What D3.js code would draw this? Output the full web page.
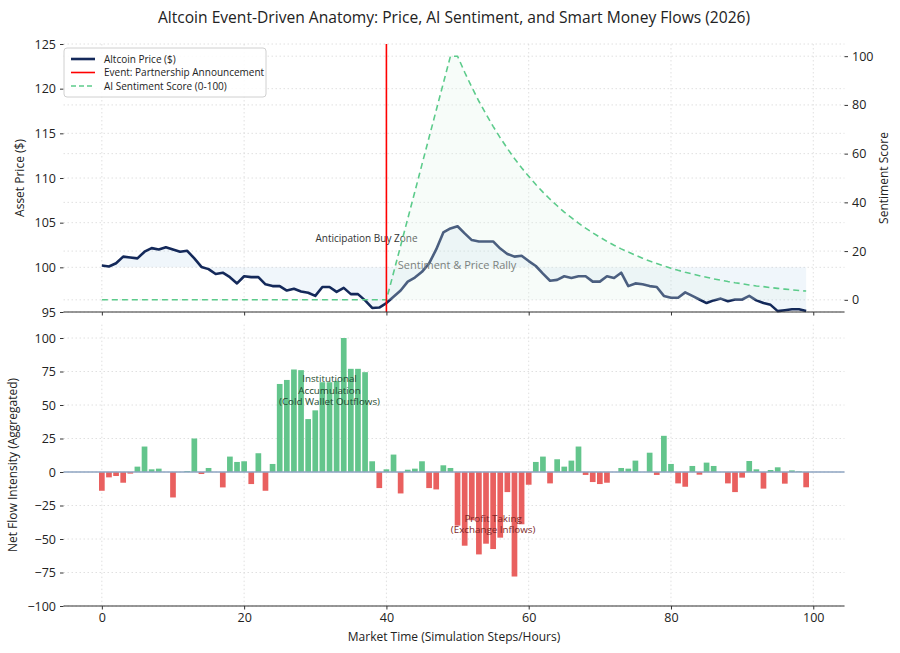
<!DOCTYPE html>
<html>
<head>
<meta charset="utf-8">
<script src="https://cdn.jsdelivr.net/npm/d3@7"></script>
<style>
  body { margin: 0; background: #fff; }
  text { font-family: "Open Sans", "Noto Sans", sans-serif; }
</style>
</head>
<body>
<div id="chart"></div>
<script>
/* global d3 */

// Data
const steps = d3.range(100)

const price = [
  100.2, 100.1, 100.45, 101.2, 101.1, 101.0, 101.75, 102.15, 102.0, 102.25,
  102.0, 101.75, 101.85, 101.0, 100.05, 99.8, 99.25, 99.4, 98.9, 98.2,
  99.0, 98.9, 98.9, 98.1, 97.9, 97.9, 97.4, 97.6, 97.3, 97.15,
  96.8, 97.8, 97.8, 97.25, 97.7, 97.0, 97.0, 96.3, 95.45, 95.5,
  96.0, 96.7, 97.4, 98.4, 98.85, 99.5, 100.45, 102.0, 103.9, 104.35,
  104.6, 103.8, 103.05, 102.9, 102.9, 102.9, 102.1, 101.5, 101.2, 101.3,
  100.7, 100.15, 99.3, 98.5, 98.6, 99.0, 98.8, 99.0, 99.0, 98.4,
  98.4, 99.0, 98.8, 99.4, 97.9, 98.2, 98.1, 97.9, 97.8, 96.8,
  96.6, 96.6, 97.2, 96.8, 96.4, 96.0, 96.3, 96.5, 96.2, 96.4,
  96.4, 96.8, 96.3, 96.0, 95.8, 95.1, 95.2, 95.3, 95.3, 95.1
]

const sentiment = [
  0, 0, 0, 0, 0, 0, 0, 0, 0, 0,
  0, 0, 0, 0, 0, 0, 0, 0, 0, 0,
  0, 0, 0, 0, 0, 0, 0, 0, 0, 0,
  0, 0, 0, 0, 0, 0, 0, 0, 0, 0,
  0, 11.1, 22.2, 33.3, 44.4, 55.6, 66.7, 77.8, 88.9, 100,
  100, 93.4, 87.3, 81.5, 76.2, 71.2, 66.5, 62.1, 58.0, 54.2,
  50.7, 47.3, 44.2, 41.3, 38.6, 36.0, 33.7, 31.5, 29.4, 27.5,
  25.7, 24.0, 22.4, 20.9, 19.6, 18.3, 17.1, 15.9, 14.9, 13.9,
  13.0, 12.1, 11.3, 10.6, 9.9, 9.3, 8.6, 8.1, 7.5, 7.0,
  6.6, 6.1, 5.7, 5.4, 5.0, 4.7, 4.4, 4.1, 3.8, 3.6
]

const netFlow = [
  -14, -4, -3, -8, -1.2, 4, 19, 2, 2.5, 0,
  -19, 0, 0.7, 25, -1.5, 3, 0, -11.5, 11.5, 7.5,
  8, -9, 14, -14, 6, 65.7, 68.7, 76.5, 76, 39.5,
  46, 67, 67, 68, 100, 77, 77, 74.5, 8, -12,
  2, 13, -16, 1.7, 2.5, 8, -12, -13, 5, 3,
  -40, -55, -36, -61.5, -53.5, -57.5, -49, -15, -78, -39,
  -9.5, 7.5, 11.5, -8.5, 9.5, 4, 8.5, 19, -2.2, -7.5,
  -9, -8, 0, 3, 2.5, 8.5, 0, 14.4, -2.2, 27,
  6, -8.5, -11, 4.5, -2, 7, 4.5, 0, -8.5, -15,
  -4.2, 8.2, 2, -12.4, 1.5, 3.5, -8.7, 1.2, 0.5, -11.4
]

const eventStep = 40
const priceTicks = [95, 100, 105, 110, 115, 120, 125]
const sentimentTicks = [0, 20, 40, 60, 80, 100]
const flowTicks = [-100, -75, -50, -25, 0, 25, 50, 75, 100]
const timeTicks = [0, 20, 40, 60, 80, 100]

// Canvas
const width = 900,
  height = 653

const svg = d3.select('#chart')
  .append('svg')
  .attr('width', width)
  .attr('height', height)

// Scales
const x = d3.scaleLinear().domain([-5.39, 104.39]).range([63.5, 844.5])
const yPrice = d3.scaleLinear().domain([95, 125]).range([312, 44])
const ySent = d3.scaleLinear().domain([-5, 105]).range([312, 44])
const yFlow = d3.scaleLinear().domain([-100, 110]).range([606, 324.6])

const xLeft = x.range()[0], xRight = x.range()[1]

// Title
svg.append('text')
  .attr('x', 454).attr('y', 23)
  .attr('text-anchor', 'middle')
  .attr('font-size', 15.6)
  .attr('fill', '#222')
  .text('Altcoin Event-Driven Anatomy: Price, AI Sentiment, and Smart Money Flows (2026)')

// grid helpers
const gridX = (g, y0, y1) => {
  g.selectAll(null)
    .data(timeTicks)
    .enter().append('line')
    .attr('x1', d => x(d)).attr('x2', d => x(d))
    .attr('y1', y0).attr('y2', y1)
    .attr('stroke', '#d8d8d8').attr('stroke-width', 0.8)
    .attr('stroke-dasharray', '1.5,2.5')
}
const gridY = (g, scale, ticks) => {
  g.selectAll(null)
    .data(ticks)
    .enter().append('line')
    .attr('x1', xLeft).attr('x2', xRight)
    .attr('y1', d => scale(d)).attr('y2', d => scale(d))
    .attr('stroke', '#d8d8d8').attr('stroke-width', 0.8)
    .attr('stroke-dasharray', '1.5,2.5')
}

const styleAxis = (g) => {
  g.select('.domain').remove()
  g.selectAll('.tick line').attr('stroke', '#333')
  g.selectAll('.tick text').attr('fill', '#222').attr('font-size', 12.5)
    .style('font-family', '"Open Sans", sans-serif')
}

// ---------- Top panel ----------
const topPanel = svg.append('g')
const topGrid = topPanel.append('g')
gridX(topGrid, 44, 312)
gridY(topGrid, yPrice, priceTicks)
gridY(topGrid, ySent, sentimentTicks)

// price band fill (between price and 100)
topPanel.append('path')
  .datum(steps)
  .attr('fill', '#5b9bd5')
  .attr('fill-opacity', 0.09)
  .attr('d', d3.area()
    .x(i => x(i))
    .y0(yPrice(100))
    .y1(i => yPrice(price[i])))

topPanel.append('path')
  .datum(steps)
  .attr('fill', 'none')
  .attr('stroke', '#14295a')
  .attr('stroke-width', 2.6)
  .attr('stroke-linejoin', 'round')
  .attr('d', d3.line().x(i => x(i)).y(i => yPrice(price[i])))

// annotations on price axis
topPanel.append('text')
  .attr('x', x(37.2)).attr('y', yPrice(102.84))
  .attr('text-anchor', 'middle')
  .attr('font-size', 10)
  .attr('fill', '#333')
  .text('Anticipation Buy Zone')

topPanel.append('text')
  .attr('x', x(41.6)).attr('y', yPrice(99.8))
  .attr('font-size', 11)
  .attr('fill', '#555')
  .text('Sentiment & Price Rally')

// sentiment (twin axis, drawn above)
topPanel.append('path')
  .datum(steps)
  .attr('fill', '#e1f5e8')
  .attr('fill-opacity', 0.27)
  .attr('d', d3.area()
    .x(i => x(i))
    .y0(ySent(0))
    .y1(i => ySent(sentiment[i])))

topPanel.append('path')
  .datum(steps)
  .attr('fill', 'none')
  .attr('stroke', '#5ccb8b')
  .attr('stroke-width', 1.6)
  .attr('stroke-dasharray', '6,4')
  .attr('d', d3.line().x(i => x(i)).y(i => ySent(sentiment[i])))

// event line
topPanel.append('line')
  .attr('x1', x(eventStep)).attr('x2', x(eventStep))
  .attr('y1', 44).attr('y2', 312)
  .attr('stroke', '#ff0000').attr('stroke-width', 1.6)

// axes
topPanel.append('g')
  .attr('transform', `translate(${xLeft},0)`)
  .call(d3.axisLeft(yPrice).tickValues(priceTicks).tickSize(3.5).tickPadding(4))
  .call(styleAxis)

topPanel.append('g')
  .attr('transform', `translate(${xRight},0)`)
  .call(d3.axisRight(ySent).tickValues(sentimentTicks).tickSize(3.5).tickPadding(4))
  .call(styleAxis)

topPanel.append('g')
  .attr('transform', 'translate(0,312)')
  .call(d3.axisBottom(x).tickValues(timeTicks).tickSize(3.5).tickFormat(''))
  .call(styleAxis)

topPanel.append('line')
  .attr('x1', xLeft).attr('x2', xRight)
  .attr('y1', 312).attr('y2', 312)
  .attr('stroke', '#333').attr('stroke-width', 1.1)

topPanel.append('text')
  .attr('transform', 'translate(24,178) rotate(-90)')
  .attr('text-anchor', 'middle')
  .attr('font-size', 12).attr('fill', '#222')
  .text('Asset Price ($)')

topPanel.append('text')
  .attr('transform', 'translate(888,178) rotate(-90)')
  .attr('text-anchor', 'middle')
  .attr('font-size', 12).attr('fill', '#222')
  .text('Sentiment Score')

// legend
const legendItems = [
  { label: 'Altcoin Price ($)', color: '#14295a', w: 2.6, dash: null },
  { label: 'Event: Partnership Announcement', color: '#ff0000', w: 1.6, dash: null },
  { label: 'AI Sentiment Score (0-100)', color: '#5ccb8b', w: 1.6, dash: '5,3' }
]
const legend = topPanel.append('g').attr('transform', 'translate(64,48)')
legend.append('rect')
  .attr('width', 202).attr('height', 49).attr('rx', 3)
  .attr('fill', '#fff').attr('fill-opacity', 0.85)
  .attr('stroke', '#d0d0d0')
legendItems.forEach((d, i) => {
  const row = legend.append('g').attr('transform', `translate(0,${11 + i * 13.5})`)
  row.append('line')
    .attr('x1', 7).attr('x2', 31)
    .attr('stroke', d.color).attr('stroke-width', d.w)
    .attr('stroke-dasharray', d.dash)
  row.append('text')
    .attr('x', 40).attr('y', 3.5)
    .attr('font-size', 10).attr('fill', '#222')
    .text(d.label)
})

// ---------- Bottom panel ----------
const botPanel = svg.append('g')
const botGrid = botPanel.append('g')
gridX(botGrid, 324.6, 606)
gridY(botGrid, yFlow, flowTicks)

const barW = x(0.8) - x(0)
botPanel.selectAll('rect.bar')
  .data(steps)
  .enter().append('rect')
  .attr('class', 'bar')
  .attr('x', i => x(i) - barW / 2)
  .attr('width', barW)
  .attr('y', i => yFlow(Math.max(0, netFlow[i])))
  .attr('height', i => Math.abs(yFlow(netFlow[i]) - yFlow(0)))
  .attr('fill', i => netFlow[i] >= 0 ? '#63c58c' : '#e9605f')

botPanel.append('line')
  .attr('x1', xLeft).attr('x2', xRight)
  .attr('y1', yFlow(0)).attr('y2', yFlow(0))
  .attr('stroke', '#8ea4c2').attr('stroke-width', 1.5)

const inst = botPanel.append('text')
  .attr('text-anchor', 'middle')
  .attr('font-size', 9.8).attr('fill', '#1f4a30')
;['Institutional', 'Accumulation', '(Cold Wallet Outflows)'].forEach((t, i) => {
  inst.append('tspan').attr('x', x(32)).attr('y', yFlow(66.8) + i * 11.5).text(t)
})

const prof = botPanel.append('text')
  .attr('text-anchor', 'middle')
  .attr('font-size', 9.8).attr('fill', '#7d2626')
;['Profit Taking', '(Exchange Inflows)'].forEach((t, i) => {
  prof.append('tspan').attr('x', x(55)).attr('y', yFlow(-37.0) + i * 11.5).text(t)
})

botPanel.append('g')
  .attr('transform', `translate(${xLeft},0)`)
  .call(d3.axisLeft(yFlow).tickValues(flowTicks).tickSize(3.5).tickPadding(4))
  .call(styleAxis)

botPanel.append('g')
  .attr('transform', 'translate(0,606)')
  .call(d3.axisBottom(x).tickValues(timeTicks).tickSize(3.5).tickPadding(4))
  .call(styleAxis)

botPanel.append('line')
  .attr('x1', xLeft).attr('x2', xRight)
  .attr('y1', 606).attr('y2', 606)
  .attr('stroke', '#333').attr('stroke-width', 1.1)

botPanel.append('text')
  .attr('transform', 'translate(17,465) rotate(-90)')
  .attr('text-anchor', 'middle')
  .attr('font-size', 12).attr('fill', '#222')
  .text('Net Flow Intensity (Aggregated)')

botPanel.append('text')
  .attr('x', 454).attr('y', 641)
  .attr('text-anchor', 'middle')
  .attr('font-size', 12).attr('fill', '#222')
  .text('Market Time (Simulation Steps/Hours)')
</script>
</body>
</html>
